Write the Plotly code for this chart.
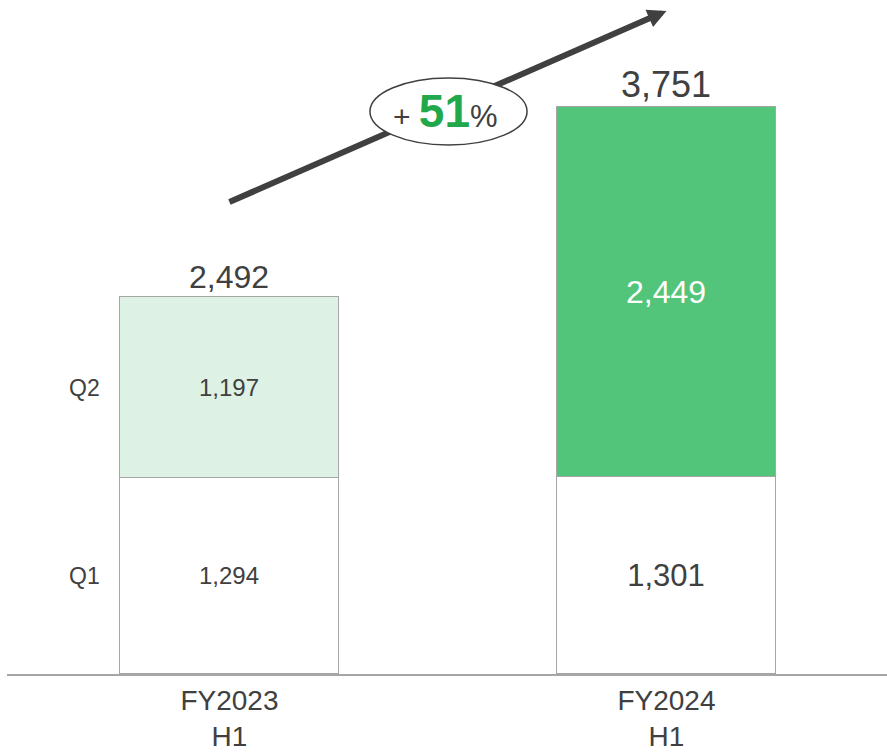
import plotly.graph_objects as go

# Half-year results split by quarter
periods = ["FY2023<br>H1", "FY2024<br>H1"]
q1_values = [1294, 1301]
q2_values = [1197, 2449]
totals = [2492, 3751]  # reported half-year totals
growth_pct = 51
quarter_names = ["Q1", "Q2"]

FONT = "Liberation Sans, Arial, sans-serif"
DARK = "#404040"
EDGE = "#A6A6A6"
xs = list(range(len(periods)))

fig = go.Figure()

fig.add_trace(go.Bar(
    x=xs, y=q1_values, width=0.5, name=quarter_names[0],
    marker=dict(color="white", line=dict(color=EDGE, width=1)),
    text=[f"{v:,}" for v in q1_values], textposition="inside",
    insidetextanchor="middle", constraintext="none",
    textfont=dict(family=FONT, size=[24, 31], color=[DARK, DARK]),
    hoverinfo="skip",
))
fig.add_trace(go.Bar(
    x=xs, y=q2_values, width=0.5, name=quarter_names[1],
    marker=dict(color=["#DDF2E4", "#52C57A"], line=dict(color=EDGE, width=1)),
    text=[f"{v:,}" for v in q2_values], textposition="inside",
    insidetextanchor="middle", constraintext="none",
    textfont=dict(family=FONT, size=[24, 32], color=[DARK, "white"]),
    hoverinfo="skip",
))

# Totals above each stack
for i, (t, sz) in enumerate(zip(totals, [32, 36])):
    fig.add_annotation(x=xs[i], y=q1_values[i] + q2_values[i], text=f"{t:,}",
                       showarrow=False, yanchor="bottom", yshift=0,
                       font=dict(family=FONT, size=sz, color=DARK))

# Quarter labels to the left of the first stack
fig.add_annotation(x=-0.331, y=q1_values[0] / 2, text=quarter_names[0],
                   showarrow=False, font=dict(family=FONT, size=23, color=DARK))
fig.add_annotation(x=-0.331, y=q1_values[0] + q2_values[0] / 2, text=quarter_names[1],
                   showarrow=False, font=dict(family=FONT, size=23, color=DARK))

# Growth arrow with an oval badge
ax0, ay0 = 0.0, 3120
ax1, ay1 = 1.0, 4383
f = 0.965
fig.add_shape(type="line", x0=ax0, y0=ay0,
              x1=ax0 + (ax1 - ax0) * f, y1=ay0 + (ay1 - ay0) * f,
              line=dict(color=DARK, width=6), layer="above")
fig.add_annotation(x=ax1, y=ay1, ax=-27.5, ay=12, axref="pixel", ayref="pixel",
                   showarrow=True, arrowhead=2, arrowsize=0.75, arrowwidth=5,
                   arrowcolor=DARK, text="")
fig.add_shape(type="circle", x0=0.3215, x1=0.681, y0=3497, y1=3940,
              fillcolor="white", line=dict(color=DARK, width=1.5), layer="above")
fig.add_annotation(
    x=0.494, y=3722, showarrow=False,
    text=(f"<span style='font-size:30px'>+ </span>"
          f"<span style='font-size:46px;color:#21A84A'><b>{growth_pct}</b></span>"
          f"<span style='font-size:31px'>%</span>"),
    font=dict(family=FONT, size=31, color=DARK),
)

fig.update_layout(
    barmode="stack",
    width=887, height=752,
    margin=dict(l=7, r=0, t=0, b=78),
    paper_bgcolor="white", plot_bgcolor="white",
    showlegend=False,
    bargap=0,
    xaxis=dict(range=[-0.509, 1.5046], tickvals=xs, ticktext=periods,
               showline=True, linecolor=EDGE, linewidth=2, showgrid=False,
               zeroline=False, ticks="", fixedrange=True,
               tickfont=dict(family=FONT, size=28, color=DARK)),
    yaxis=dict(range=[0, 4455], visible=False, fixedrange=True),
)

fig.write_html("out.html")
